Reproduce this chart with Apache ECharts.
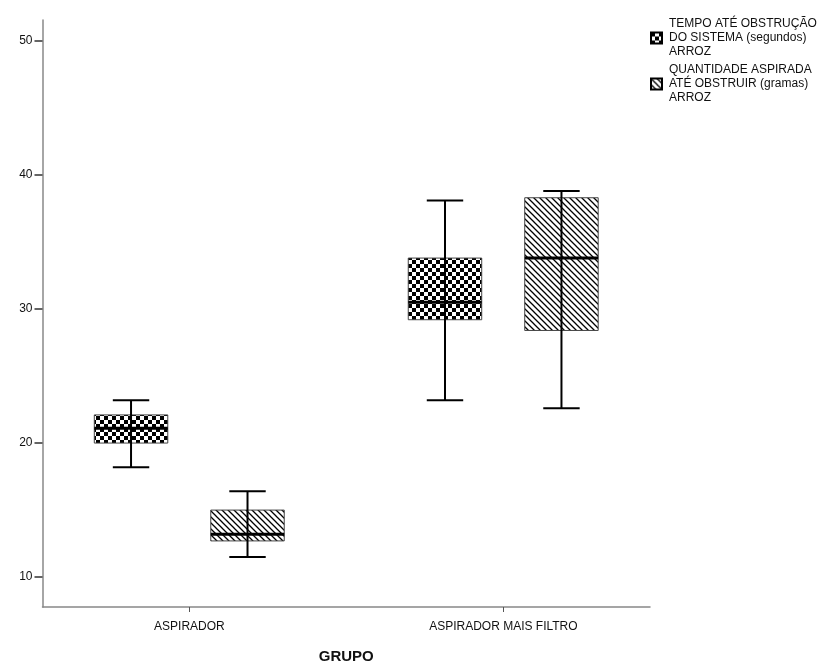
<!DOCTYPE html>
<html>
<head>
<meta charset="utf-8">
<script src="https://cdn.jsdelivr.net/npm/echarts@6/dist/echarts.min.js"></script>
<style>
  html, body { margin: 0; padding: 0; background: #fff; }
  #chart { width: 839px; height: 669px; }
</style>
</head>
<body>
<div id="chart"></div>
<script>
// Groups on the horizontal axis
const categories = ['ASPIRADOR', 'ASPIRADOR MAIS FILTRO'];
// Series (legend) names
const tempoName = 'TEMPO ATÉ OBSTRUÇÃO\nDO SISTEMA (segundos)\nARROZ';
const quantName = 'QUANTIDADE ASPIRADA\nATÉ OBSTRUIR (gramas)\nARROZ';
// Box statistics per group: [lower whisker, Q1, median, Q3, upper whisker]
const tempoStats = [
  [18.2, 20.0, 21.1, 22.1, 23.2],
  [23.2, 29.2, 30.5, 33.8, 38.1]
];
const quantStats = [
  [11.5, 12.7, 13.2, 15.0, 16.4],
  [22.6, 28.4, 33.8, 38.3, 38.8]
];
// Value-axis tick labels
const yTicks = [10, 20, 30, 40, 50];

// Fill patterns
function checkerPattern() {
  const c = document.createElement('canvas');
  c.width = 8; c.height = 8;
  const g = c.getContext('2d');
  g.fillStyle = '#fff'; g.fillRect(0, 0, 8, 8);
  g.fillStyle = '#000';
  g.fillRect(0, 0, 4, 4);
  g.fillRect(4, 4, 4, 4);
  return { image: c, repeat: 'repeat' };
}
function hatchPattern() {
  const s = 6;
  const c = document.createElement('canvas');
  c.width = s; c.height = s;
  const g = c.getContext('2d');
  g.fillStyle = '#fff'; g.fillRect(0, 0, s, s);
  g.strokeStyle = '#000';
  g.lineWidth = 1.3;
  g.beginPath();
  g.moveTo(-1, -1); g.lineTo(s + 1, s + 1);
  g.moveTo(-1, s - 1); g.lineTo(1, s + 1);
  g.moveTo(s - 1, -1); g.lineTo(s + 1, 1);
  g.stroke();
  return { image: c, repeat: 'repeat' };
}
const checker = checkerPattern();
const hatch = hatchPattern();

// Each data row: [group position, low, q1, median, q3, high]
function toRows(stats) {
  return stats.map((s, i) => [i + 1].concat(s));
}

// Box, whiskers with caps, and a heavy median line
function makeRender(shift, fill) {
  return function (params, api) {
    const unit = api.size([1, 0])[0];
    const xv = api.value(0);
    const cx = api.coord([xv, 0])[0] + shift * unit;
    const yLow = api.coord([xv, api.value(1)])[1];
    const yQ1 = api.coord([xv, api.value(2)])[1];
    const yMed = api.coord([xv, api.value(3)])[1];
    const yQ3 = api.coord([xv, api.value(4)])[1];
    const yHigh = api.coord([xv, api.value(5)])[1];
    const half = unit * 0.117;
    const cap = unit * 0.058;
    return {
      type: 'group',
      children: [
        { type: 'rect', shape: { x: cx - half, y: yQ3, width: 2 * half, height: yQ1 - yQ3 },
          style: { fill: fill, stroke: '#444', lineWidth: 1 } },
        { type: 'line', shape: { x1: cx, y1: yHigh, x2: cx, y2: yLow },
          style: { stroke: '#000', lineWidth: 2 } },
        { type: 'line', shape: { x1: cx - cap, y1: yHigh, x2: cx + cap, y2: yHigh },
          style: { stroke: '#000', lineWidth: 2 } },
        { type: 'line', shape: { x1: cx - cap, y1: yLow, x2: cx + cap, y2: yLow },
          style: { stroke: '#000', lineWidth: 2 } },
        { type: 'line', shape: { x1: cx - half, y1: yMed, x2: cx + half, y2: yMed },
          style: { stroke: '#000', lineWidth: 3 } }
      ]
    };
  };
}

const font = 'Liberation Sans, Arial, sans-serif';
const chart = echarts.init(document.getElementById('chart'), null, { renderer: 'canvas' });
chart.setOption({
  backgroundColor: '#fff',
  animation: false,
  textStyle: { fontFamily: font },
  legend: {
    orient: 'vertical',
    left: 645,
    top: 12,
    itemWidth: 11,
    itemHeight: 11,
    itemGap: 4,
    icon: 'rect',
    selectedMode: false,
    textStyle: { fontFamily: font, fontSize: 12, color: '#111', lineHeight: 14, padding: [0, 0, 0, 2] },
    data: [tempoName, quantName]
  },
  grid: { left: 42.5, right: 189, top: 20, bottom: 60, containLabel: false },
  xAxis: {
    type: 'value',
    min: 0.532,
    max: 2.467,
    splitLine: { show: false },
    axisLine: { show: true, onZero: false, lineStyle: { color: '#888', width: 1.5 } },
    axisTick: { show: true, customValues: [1, 2], length: 5, lineStyle: { color: '#555', width: 1 } },
    axisLabel: {
      customValues: [1, 2],
      formatter: v => categories[Math.round(v) - 1] || '',
      color: '#111', fontSize: 12, fontFamily: font, margin: 14
    },
    name: 'GRUPO',
    nameLocation: 'middle',
    nameGap: 42,
    nameTextStyle: { fontFamily: font, fontSize: 15, fontWeight: 'bold', color: '#111' }
  },
  yAxis: {
    type: 'value',
    min: 7.77,
    max: 51.56,
    splitLine: { show: false },
    axisLine: { show: true, lineStyle: { color: '#888', width: 1.5 } },
    axisTick: { show: true, customValues: yTicks, length: 8, lineStyle: { color: '#333', width: 1.5 } },
    axisLabel: { customValues: yTicks, color: '#111', fontSize: 12, fontFamily: font, margin: 10 }
  },
  series: [
    {
      name: tempoName,
      type: 'custom',
      itemStyle: { color: checker, borderColor: '#000', borderWidth: 1 },
      encode: { x: 0, y: [1, 2, 3, 4, 5] },
      renderItem: makeRender(-0.186, checker),
      data: toRows(tempoStats)
    },
    {
      name: quantName,
      type: 'custom',
      itemStyle: { color: hatch, borderColor: '#000', borderWidth: 1 },
      encode: { x: 0, y: [1, 2, 3, 4, 5] },
      renderItem: makeRender(0.185, hatch),
      data: toRows(quantStats)
    }
  ]
});
</script>
</body>
</html>
